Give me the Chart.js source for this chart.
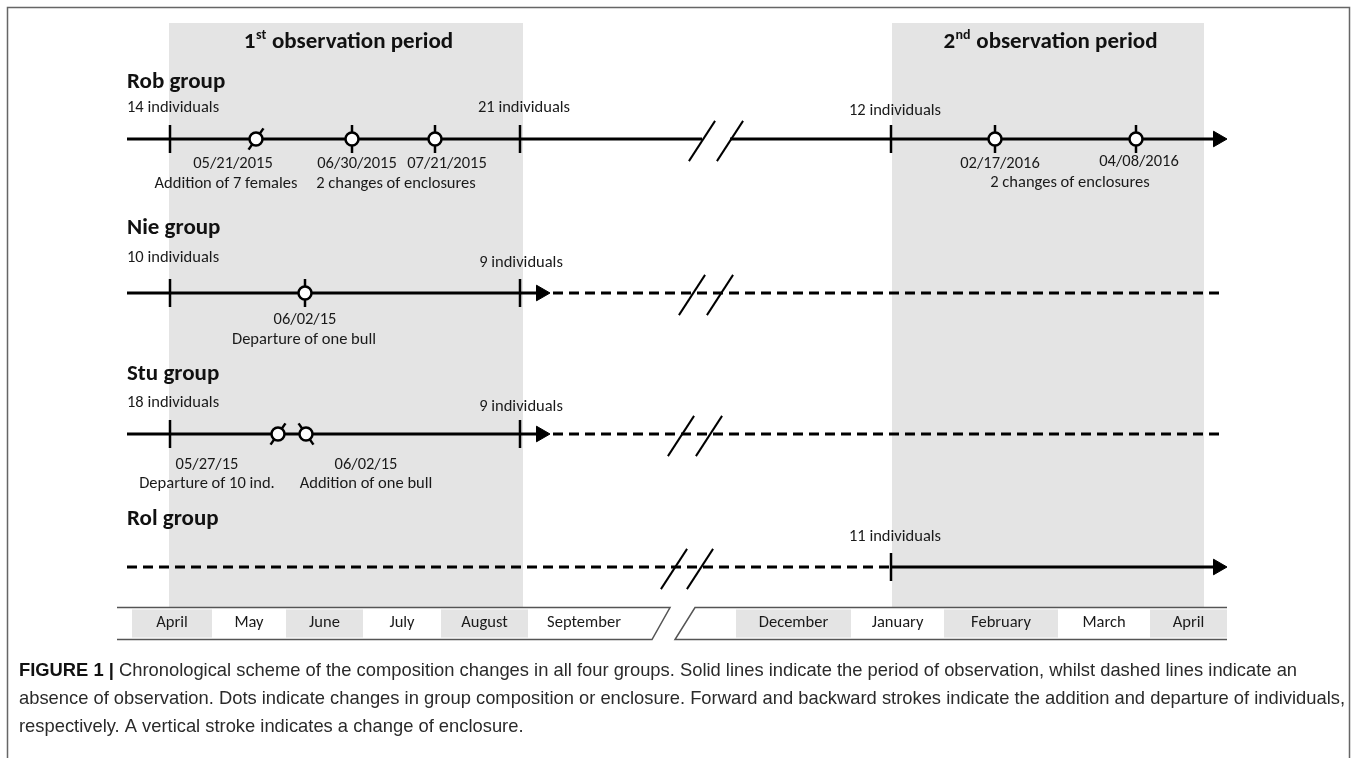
<!DOCTYPE html>
<html>
<head>
<meta charset="utf-8">
<script src="https://cdn.jsdelivr.net/npm/chart.js@4.4.1/dist/chart.umd.min.js"></script>
<style>
  html, body { margin: 0; padding: 0; background: #fff; }
  canvas { display: block; }
</style>
</head>
<body>
<canvas id="timeline" width="1357" height="758"></canvas>
<script>
// Timeline axis: x = position along the (schematic, broken) time axis, y = row on the sheet
const FONT = 'Carlito, Lato, "Open Sans", sans-serif';
const CAPTION_FONT = '"Liberation Sans", Arial, sans-serif';

// observation periods (shaded)
const periodOrdinal = ['1', '2'];
const periodSuffix = ['st', 'nd'];
const periodStart = [169, 892];
const periodEnd = [523, 1204];

// groups
const groupNames = ['Rob group', 'Nie group', 'Stu group', 'Rol group'];
const groupLine = [139, 293, 434, 567];
const groupTitle = [82, 228, 374, 519];

// observed (solid) and not observed (dashed) stretches: [group, from, to]
const solidParts = [[0, 127, 702], [0, 730, 1218], [1, 127, 542], [2, 127, 542], [3, 891, 1218]];
const dashedParts = [[1, 553, 1225], [2, 553, 1225], [3, 127, 891]];
const arrowGroup = [0, 1, 2, 3];
const arrowAt = [1218, 541, 541, 1218];

// axis breaks "//"
const breakGroup = [0, 0, 1, 1, 2, 2, 3, 3];
const breakAt = [702, 730, 692, 720, 681, 709, 674, 700];

// plain vertical strokes (start / end of periods)
const tickGroup = [0, 0, 0, 1, 1, 2, 2, 3];
const tickAt = [170, 520, 891, 170, 520, 170, 520, 891];

// dots = changes in composition / enclosure
const dotGroup = [0, 0, 0, 0, 0, 1, 2, 2];
const dotAt = [256, 352, 435, 995, 1136, 305, 278, 306];
const dotStroke = ['fwd', 'vert', 'vert', 'vert', 'vert', 'vert', 'fwd', 'back'];

// group sizes
const countText = ['14 individuals', '21 individuals', '12 individuals', '10 individuals', '9 individuals',
                   '18 individuals', '9 individuals', '11 individuals'];
const countX = [127, 524, 895, 127, 521, 127, 521, 895];
const countY = [108, 108, 111, 258, 263, 403, 407, 537];
const countAlign = ['left', 'center', 'center', 'left', 'center', 'left', 'center', 'center'];

// event labels
const eventText = ['05/21/2015', 'Addition of 7 females', '06/30/2015', '07/21/2015', '2 changes of enclosures',
                   '02/17/2016', '04/08/2016', '2 changes of enclosures',
                   '06/02/15', 'Departure of one bull',
                   '05/27/15', 'Departure of 10 ind.', '06/02/15', 'Addition of one bull'];
const eventX = [233, 226, 357, 447, 396, 1000, 1139, 1070, 305, 304, 207, 207, 366, 366];
const eventY = [164, 184, 164, 164, 184, 164, 162, 183, 320, 340, 465, 484, 465, 484];

// month scale
const months = ['April', 'May', 'June', 'July', 'August', 'September',
                'December', 'January', 'February', 'March', 'April'];
const monthStart = [132, 212, 286, 363, 441, 528, 736, 851, 944, 1058, 1150];
const monthEnd = [212, 286, 363, 441, 528, 640, 851, 944, 1058, 1150, 1227];
const monthShaded = [true, false, true, false, true, false, true, false, true, false, true];

const captionLines = [
  'Chronological scheme of the composition changes in all four groups. Solid lines indicate the period of observation, whilst dashed lines indicate an',
  'absence of observation. Dots indicate changes in group composition or enclosure. Forward and backward strokes indicate the addition and departure of individuals,',
  'respectively. A vertical stroke indicates a change of enclosure.'
];

const strokeAngle = { vert: 90, fwd: -55, back: 55 };

function segments(parts, dashed) {
  return parts.map(([g, a, b]) => ({
    data: [{ x: a, y: groupLine[g] }, { x: b, y: groupLine[g] }],
    showLine: true,
    borderColor: '#000',
    borderWidth: 3,
    borderDash: dashed ? [10, 6] : [],
    pointRadius: 0,
    order: 6
  }));
}

const datasets = [
  ...segments(solidParts, false),
  ...segments(dashedParts, true),
  {
    data: tickAt.map((v, i) => ({ x: v, y: groupLine[tickGroup[i]] })),
    pointStyle: 'line', pointRotation: 90, pointRadius: 14,
    pointBorderWidth: 2.5, pointBorderColor: '#000', order: 5
  },
  {
    data: dotAt.map((v, i) => ({ x: v, y: groupLine[dotGroup[i]] })),
    pointStyle: 'line',
    pointRotation: dotStroke.map(s => strokeAngle[s]),
    pointRadius: dotStroke.map(s => s === 'vert' ? 14 : 13),
    pointBorderWidth: 2.5, pointBorderColor: '#000', order: 4
  },
  {
    data: dotAt.map((v, i) => ({ x: v, y: groupLine[dotGroup[i]] })),
    pointStyle: 'circle', pointRadius: 6.5,
    pointBackgroundColor: '#fff', pointBorderColor: '#000', pointBorderWidth: 2.5, order: 3
  },
  {
    data: breakAt.map((v, i) => ({ x: v, y: groupLine[breakGroup[i]] + 2 })),
    pointStyle: 'line', pointRotation: -57, pointRadius: 24,
    pointBorderWidth: 2, pointBorderColor: '#000', order: 2
  },
  {
    data: arrowAt.map((v, i) => ({ x: v, y: groupLine[arrowGroup[i]] })),
    pointStyle: 'triangle', pointRotation: 90, pointRadius: 9,
    pointBackgroundColor: '#000', pointBorderColor: '#000', pointBorderWidth: 1, order: 1
  }
];

function drawTitle(ctx, cx, cy, num, sup, rest) {
  const big = 'bold 23px ' + FONT, small = 'bold 14px ' + FONT;
  ctx.font = big;
  const w1 = ctx.measureText(num).width, w3 = ctx.measureText(rest).width;
  ctx.font = small;
  const w2 = ctx.measureText(sup).width;
  let x0 = cx - (w1 + w2 + w3) / 2;
  ctx.textAlign = 'left';
  ctx.textBaseline = 'middle';
  ctx.font = big; ctx.fillText(num, x0, cy);
  ctx.font = small; ctx.fillText(sup, x0 + w1 + 0.5, cy - 7);
  ctx.font = big; ctx.fillText(rest, x0 + w1 + w2 + 1, cy);
}

const decor = {
  id: 'decor',
  beforeDatasetsDraw(chart) {
    const { ctx, scales: { x, y } } = chart;
    ctx.save();
    ctx.fillStyle = '#fff';
    ctx.fillRect(0, 0, chart.width, chart.height);

    // frame
    ctx.strokeStyle = '#666';
    ctx.lineWidth = 1.5;
    ctx.beginPath();
    ctx.moveTo(7.5, 758); ctx.lineTo(7.5, 7.5); ctx.lineTo(1349.5, 7.5); ctx.lineTo(1349.5, 758);
    ctx.stroke();

    // observation periods
    ctx.fillStyle = '#e4e4e4';
    const top = y.getPixelForValue(23), bot = y.getPixelForValue(607);
    periodStart.forEach((s, i) => {
      const a = x.getPixelForValue(s), b = x.getPixelForValue(periodEnd[i]);
      ctx.fillRect(a, top, b - a, bot - top);
    });
    ctx.fillStyle = '#111';
    periodStart.forEach((s, i) => {
      const cx = x.getPixelForValue((s + periodEnd[i]) / 2 + 2);
      drawTitle(ctx, cx, y.getPixelForValue(42), periodOrdinal[i], periodSuffix[i], ' observation period');
    });

    // group names
    ctx.font = 'bold 23px ' + FONT;
    ctx.textAlign = 'left';
    ctx.textBaseline = 'middle';
    groupNames.forEach((g, i) => ctx.fillText(g, x.getPixelForValue(127), y.getPixelForValue(groupTitle[i])));

    // month bar
    const bt = y.getPixelForValue(607.5), bb = y.getPixelForValue(639.5);
    ctx.fillStyle = '#e4e4e4';
    months.forEach((m, i) => {
      if (!monthShaded[i]) return;
      const a = x.getPixelForValue(monthStart[i]), b = x.getPixelForValue(monthEnd[i]);
      ctx.fillRect(a, bt + 2, b - a, bb - bt - 4);
    });
    ctx.strokeStyle = '#555';
    ctx.lineWidth = 1.5;
    ctx.beginPath();
    ctx.moveTo(x.getPixelForValue(117), bt); ctx.lineTo(x.getPixelForValue(670), bt);
    ctx.lineTo(x.getPixelForValue(652), bb); ctx.lineTo(x.getPixelForValue(117), bb);
    ctx.moveTo(x.getPixelForValue(1227), bt); ctx.lineTo(x.getPixelForValue(695), bt);
    ctx.lineTo(x.getPixelForValue(675), bb); ctx.lineTo(x.getPixelForValue(1227), bb);
    ctx.stroke();
    ctx.fillStyle = '#1a1a1a';
    ctx.font = '16.5px ' + FONT;
    ctx.textAlign = 'center';
    months.forEach((m, i) => {
      ctx.fillText(m, x.getPixelForValue((monthStart[i] + monthEnd[i]) / 2), y.getPixelForValue(623));
    });
    ctx.restore();
  },
  afterDatasetsDraw(chart) {
    const { ctx, scales: { x, y } } = chart;
    ctx.save();
    ctx.fillStyle = '#1a1a1a';
    ctx.font = '16.5px ' + FONT;
    ctx.textBaseline = 'middle';
    countText.forEach((t, i) => {
      ctx.textAlign = countAlign[i];
      ctx.fillText(t, x.getPixelForValue(countX[i]), y.getPixelForValue(countY[i]));
    });
    ctx.textAlign = 'center';
    eventText.forEach((t, i) => ctx.fillText(t, x.getPixelForValue(eventX[i]), y.getPixelForValue(eventY[i])));

    // caption, condensed to the width of the printed lines
    const bold = 'bold 18.5px ' + CAPTION_FONT, reg = '18.5px ' + CAPTION_FONT;
    ctx.font = reg;
    const scale = 1326 / ctx.measureText(captionLines[1]).width;
    const lines = [
      [['FIGURE 1 | ', bold, '#111'], [captionLines[0], reg, '#2a2a2a']],
      [[captionLines[1], reg, '#2a2a2a']],
      [[captionLines[2], reg, '#2a2a2a']]
    ];
    ctx.textAlign = 'left';
    ctx.textBaseline = 'middle';
    lines.forEach((parts, li) => {
      ctx.save();
      ctx.translate(19, 671 + li * 28);
      ctx.scale(scale, 1);
      let cx = 0;
      parts.forEach(([t, f, c]) => {
        ctx.font = f;
        ctx.fillStyle = c;
        ctx.fillText(t, cx, 0);
        cx += ctx.measureText(t).width;
      });
      ctx.restore();
    });
    ctx.restore();
  }
};

new Chart(document.getElementById('timeline'), {
  type: 'scatter',
  data: { datasets },
  options: {
    responsive: false,
    animation: false,
    devicePixelRatio: 1,
    events: [],
    layout: { padding: 0, autoPadding: false },
    plugins: { legend: { display: false }, tooltip: { enabled: false } },
    scales: {
      x: { type: 'linear', min: 0, max: 1357, display: false },
      y: { type: 'linear', min: 0, max: 758, reverse: true, display: false }
    }
  },
  plugins: [decor]
});
</script>
</body>
</html>
